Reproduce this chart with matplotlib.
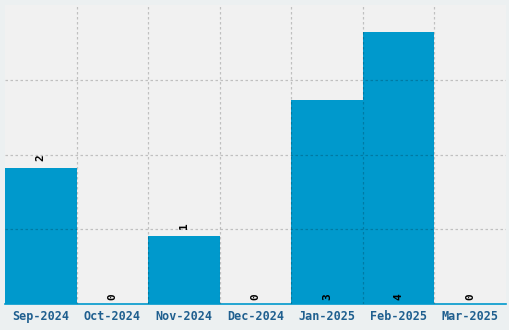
import numpy as np
import matplotlib
matplotlib.use('Agg')
import matplotlib.pyplot as plt

# datos
months = ['Sep-2024', 'Oct-2024', 'Nov-2024', 'Dec-2024', 'Jan-2025', 'Feb-2025', 'Mar-2025']
counts = [2, 0, 1, 0, 3, 4, 0]

ymax = 4.4
bar_color = '#0099CC'

fig = plt.figure(figsize=(5.1, 3.3), dpi=100, facecolor='#ECF0F1')
ax = fig.add_axes([5/510, 26/330, 501/510, 299/330])
ax.set_facecolor('#F1F1F1')

x = np.arange(len(months))
ax.bar(x, counts, width=1.0, color=bar_color, zorder=1)

ax.set_xlim(-0.5, len(months) - 0.5)
ax.set_ylim(0, ymax)

# rejilla
ax.set_xticks(x)
ax.set_xticks(x[:-1] + 0.5, minor=True)
ax.set_yticks(np.arange(1, 4) * ymax / 4)
ax.set_yticklabels([])
ax.grid(True, which='minor', axis='x', color='black', alpha=0.2, linestyle=(0, (2, 2)), linewidth=0.9, zorder=3)
ax.grid(True, which='major', axis='y', color='black', alpha=0.2, linestyle=(0, (2, 2)), linewidth=0.9, zorder=3)
ax.set_axisbelow(False)

ax.set_xticklabels(months, family='DejaVu Sans Mono', fontweight='bold', fontsize=8.5, color='#1F5F8F')
ax.tick_params(axis='x', which='both', length=0, pad=4)
ax.tick_params(axis='y', length=0)

for s in ['left', 'right', 'top']:
    ax.spines[s].set_visible(False)
ax.spines['bottom'].set_color(bar_color)
ax.spines['bottom'].set_linewidth(1.2)

# etiquetas
for xi, v in zip(x, counts):
    if v == 0 or v >= 3:
        ax.text(xi, 0.06, str(v), rotation=90, ha='center', va='bottom',
                family='DejaVu Sans Mono', fontweight='bold', fontsize=8, color='black', zorder=4)
    else:
        ax.text(xi, v + 0.1, str(v), rotation=90, ha='center', va='bottom',
                family='DejaVu Sans Mono', fontweight='bold', fontsize=8, color='black', zorder=4)

plt.savefig('out.png', dpi=100, facecolor=fig.get_facecolor())
plt.close()
